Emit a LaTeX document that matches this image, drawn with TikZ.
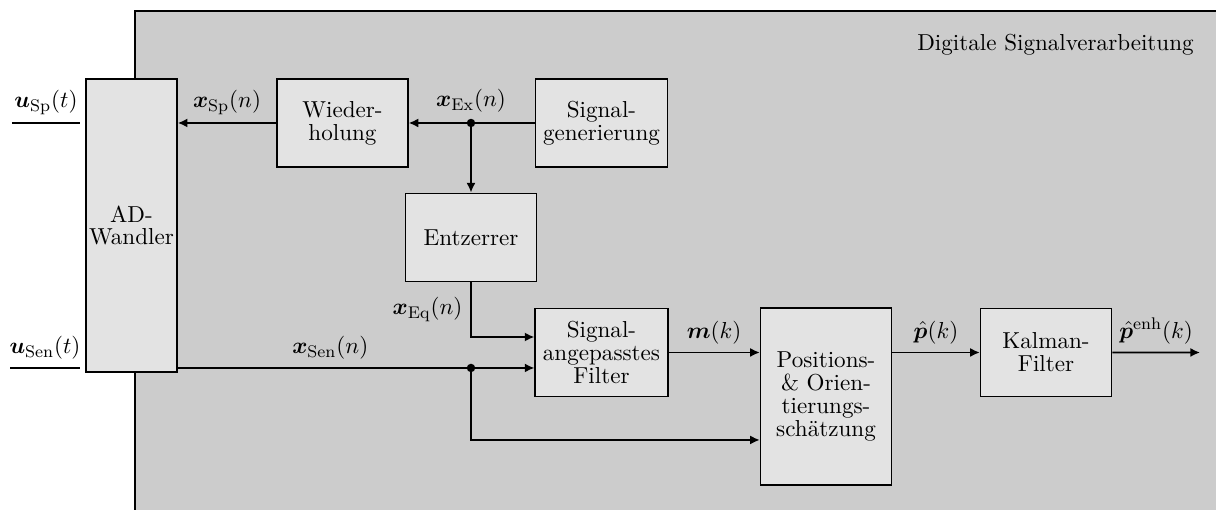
\documentclass[11pt,tikz,border=0pt]{standalone}
\usepackage{amsmath}
\usepackage{bm}
\usetikzlibrary{arrows.meta}
\tikzstyle{block} = [rectangle, minimum width=2.18cm, minimum height=1.47cm, text centered, align=center, draw=black, thick, fill=black!11]
\tikzstyle{arrow} = [thick,-{Latex[length=1.6mm,width=1.5mm]}]
\tikzstyle{line} = [thick]
\tikzstyle{junction} = [circle, fill=black, inner sep=0pt, minimum size=4pt]

\begin{document}
\begin{tikzpicture}[node distance=2cm, every node/.append style={font=\linespread{0.8}\selectfont}]
        \clip (0,0) rectangle (20.267,8.5);
        % Hintergrund
        \fill[black!20] (2.25,-1) rectangle (21,8.317);
        \draw[semithick] (2.25,-1) -- (2.25,8.317) -- (21,8.317);
        \node (dsv) [anchor=east] at (20.03,7.75) {Digitale Signalverarbeitung};

        \node (wdh) [block] at (5.708,6.45) {Wieder-\\holung};
        \node (sig) [block, right of=wdh, xshift=2.317cm] {Signal-\\generierung};
        \node (ent) [block, below of=wdh, xshift=2.142cm, yshift=0.092cm] {Entzerrer};
        \node (adw) [block, left of=wdh, xshift=-1.517cm, yshift=-1.708cm, inner xsep=0pt, minimum width=1.517cm, minimum height=4.883cm] {AD-\\Wandler};
        \node (saf) [block, below of=sig, yshift=-1.825cm] {Signal-\\angepasstes\\Filter};
        \node (pos) [block, right of=saf, xshift=1.742cm, yshift=-0.733cm, minimum height=2.95cm] {Positions-\\\& Orien-\\tierungs-\\sch\"atzung};
        \node (kal) [block, right of=pos, xshift=1.667cm, yshift=0.733cm] {Kalman-\\Filter};

        \coordinate (uspa) at (0.2,6.45);
        \coordinate (uspb) at (1.333,6.45);
        \coordinate (usena) at (0.167,2.367);
        \coordinate (usenb) at (1.333,2.367);
        \coordinate (jex) at (7.85,6.45);
        \coordinate (jsen) at (7.85,2.367);
        \coordinate (out) at (20,2.625);

        % Arrows
        \draw [line] (uspa) -- node[above] {$\bm{u}_{\mathrm{Sp}}(t)$} (uspb);
        \draw [line] (usena) -- node[above] {$\bm{u}_{\mathrm{Sen}}(t)$} (usenb);
        \draw [arrow] (sig.west) -- (wdh.east);
        \draw [arrow] (wdh.west) -- node[above] {$\bm{x}_{\mathrm{Sp}}(n)$} (adw.east |- wdh);
        \draw [arrow] (jex) -- (ent.north);
        \node (jexdot) [junction, label={[yshift=-1pt]above:$\bm{x}_{\mathrm{Ex}}(n)$}] at (jex) {};
        \draw [arrow] (ent.south) |- node[left, pos=0.25] {$\bm{x}_{\mathrm{Eq}}(n)$} ([yshift=0.258cm]saf.west);
        \draw [line] (adw.east |- jsen) -- node[above, pos=0.52] {$\bm{x}_{\mathrm{Sen}}(n)$} (jsen);
        \draw [arrow] (jsen) -- (saf.west |- jsen);
        \draw [arrow] (jsen) |- ([yshift=-0.725cm]pos.west);
        \node (jsendot) [junction] at (jsen) {};
        \draw [arrow] (saf.east) -- node[above] {$\bm{m}(k)$} (saf.east -| pos.west);
        \draw [arrow] (kal.west -| pos.east) -- node[above] {$\hat{\bm{p}}(k)$} (kal.west);
        \draw [arrow] (kal.east) -- node[above] {$\hat{\bm{p}}^{\mathrm{enh}}(k)$} (out);

\end{tikzpicture}
\end{document}
